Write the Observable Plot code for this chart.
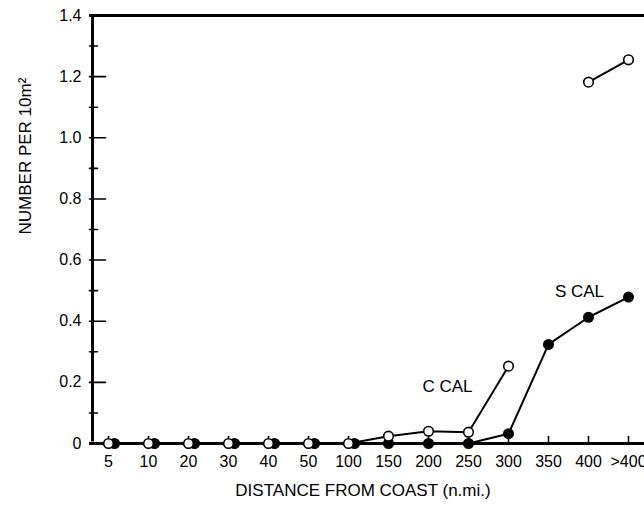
<!DOCTYPE html>
<html>
<head>
<meta charset="utf-8">
<script src="https://cdn.jsdelivr.net/npm/d3@7"></script>
<script src="https://cdn.jsdelivr.net/npm/@observablehq/plot@0.6"></script>
<style>
  html, body { margin: 0; padding: 0; background: #fff; }
  #chart { width: 644px; height: 506px; overflow: hidden; }
</style>
</head>
<body>
<div id="chart"></div>
<script>
// Categories along the x axis (distance from coast, n.mi.)
const categories = ["5", "10", "20", "30", "40", "50", "100", "150", "200", "250", "300", "350", "400", ">400"];
// Number per 10 m^2
const cCal = [0, 0, 0, 0, 0, 0, 0, 0.024, 0.040, 0.037, 0.253, null, 1.182, 1.255];
const sCal = [0, 0, 0, 0, 0, 0, 0, 0, 0, 0, 0.032, 0.324, 0.413, 0.479];
// Y tick values
const yMajorTicks = [0, 0.2, 0.4, 0.6, 0.8, 1.0, 1.2, 1.4];
const yMinorTicks = [0.1, 0.3, 0.5, 0.7, 0.9, 1.1, 1.3];
// Series labels
const seriesLabels = ["C CAL", "S CAL"];
const seriesLabelCats = ["250", "350"];
const seriesLabelValues = [0.187, 0.497];
const seriesLabelShift = [-21, 31];

const cData = categories.map((c, i) => ({cat: c, v: cCal[i]}));
const sData = categories.map((c, i) => ({cat: c, v: sCal[i]}));
const sZero = sData.filter((d, i) => i < 7);
const sRest = sData.filter((d, i) => i >= 7);
const labelData = seriesLabels.map((t, i) => ({t, cat: seriesLabelCats[i], v: seriesLabelValues[i]}));

const tickShape = {
  draw(context, l) {
    context.moveTo(0, 0);
    context.lineTo(0, -l);
  }
};

const font = "'Liberation Sans', Arial, Helvetica, sans-serif";

const chart = Plot.plot({
  width: 644,
  height: 506,
  marginLeft: 89,
  marginRight: 0,
  marginTop: 15,
  marginBottom: 63,
  style: {fontFamily: font, fontSize: "16px", color: "#000", background: "#fff"},
  x: {type: "point", domain: categories, range: [105.5, 630.7], padding: 0},
  y: {domain: [0, 1.4]},
  marks: [
    // axis lines
    Plot.ruleY([0, 1.4], {stroke: "#000", strokeWidth: 3}),
    Plot.ruleX([categories[0]], {y1: 0, y2: 1.4, dx: -16, stroke: "#000", strokeWidth: 3, insetTop: -1.5, insetBottom: -1.5}),
    // inward ticks on y axis
    Plot.vector(yMajorTicks.filter(d => d > 0 && d < 1.4), {
      y: d => d, frameAnchor: "left", length: 16, rotate: 90, anchor: "start",
      shape: tickShape, strokeWidth: 1.6, stroke: "#000"
    }),
    Plot.vector(yMinorTicks, {
      y: d => d, frameAnchor: "left", length: 8, rotate: 90, anchor: "start",
      shape: tickShape, strokeWidth: 1.6, stroke: "#000"
    }),
    // inward ticks on x axis
    Plot.vector(categories, {
      x: d => d, frameAnchor: "bottom", length: 7, rotate: 0, anchor: "start",
      shape: tickShape, strokeWidth: 1.6, stroke: "#000"
    }),
    Plot.axisY({
      ticks: yMajorTicks, tickSize: 0, tickPadding: 8, label: null, fontSize: 16,
      tickFormat: d => d === 0 ? "0" : d.toFixed(1)
    }),
    Plot.axisX({tickSize: 0, tickPadding: 12, label: null, fontSize: 16}),
    // axis titles
    Plot.text(["DISTANCE FROM COAST (n.mi.)"], {
      frameAnchor: "bottom", dy: 47, dx: -4, fontSize: 17, lineAnchor: "middle"
    }),
    Plot.text(["NUMBER PER 10m²"], {
      frameAnchor: "left", dx: -64, dy: 5, rotate: -90, fontSize: 17, lineAnchor: "middle"
    }),
    // S CAL series (filled)
    Plot.line(sData, {x: "cat", y: "v", stroke: "#000", strokeWidth: 2}),
    Plot.dot(sZero, {x: "cat", y: "v", r: 5.5, fill: "#000", dx: 6}),
    Plot.dot(sRest, {x: "cat", y: "v", r: 5.5, fill: "#000"}),
    // C CAL series (open)
    Plot.line(cData, {x: "cat", y: "v", stroke: "#000", strokeWidth: 2}),
    Plot.dot(cData, {x: "cat", y: "v", r: 4.8, fill: "#fff", stroke: "#000", strokeWidth: 1.6}),
    // series labels
    Plot.text(labelData.slice(0, 1), {x: "cat", y: "v", text: "t", fontSize: 17, dx: seriesLabelShift[0]}),
    Plot.text(labelData.slice(1, 2), {x: "cat", y: "v", text: "t", fontSize: 17, dx: seriesLabelShift[1]})
  ]
});

document.getElementById("chart").appendChild(chart);
</script>
</body>
</html>
